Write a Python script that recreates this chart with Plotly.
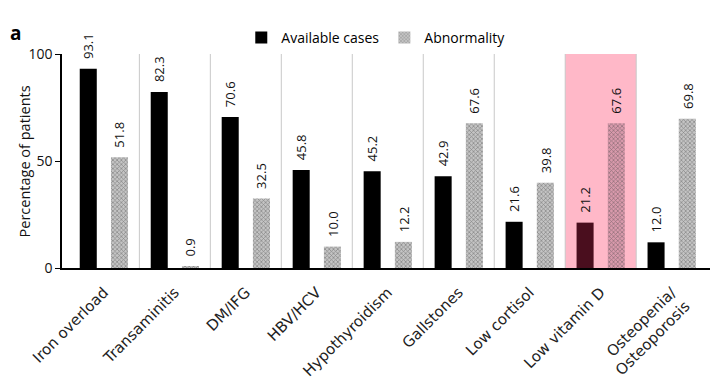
import plotly.graph_objects as go

categories = ["Iron overload", "Transaminitis", "DM/IFG", "HBV/HCV", "Hypothyroidism",
              "Gallstones", "Low cortisol", "Low vitamin D", "Osteopenia/<br>Osteoporosis"]
available = [93.1, 82.3, 70.6, 45.8, 45.2, 42.9, 21.6, 21.2, 12.0]
abnormality = [51.8, 0.9, 32.5, 10.0, 12.2, 67.6, 39.8, 67.6, 69.8]
highlight_index = 7
y_ticks = [0, 50, 100]

x = list(range(len(categories)))
black_colors = ["#4a0e1e" if i == highlight_index else "#000000" for i in x]
pat_fg = ["#8c5a68" if i == highlight_index else "#6e6e6e" for i in x]
pat_bg = ["#d99aac" if i == highlight_index else "#c4c4c4" for i in x]

BAR_W = 0.24
OFF_A = -0.34
OFF_B = 0.10

fig = go.Figure()
fig.add_trace(go.Bar(
    x=x, y=available, name="Available cases",
    marker=dict(color=black_colors, line=dict(width=0)),
    width=BAR_W, offset=OFF_A,
))
fig.add_trace(go.Bar(
    x=x, y=abnormality, name="Abnormality",
    marker=dict(color=pat_bg, line=dict(width=0),
                pattern=dict(shape="x", size=3, fgcolor=pat_fg, bgcolor=pat_bg, solidity=0.4)),
    width=BAR_W, offset=OFF_B,
))

annotations = []
for series, off in ((available, OFF_A), (abnormality, OFF_B)):
    for i, v in enumerate(series):
        annotations.append(dict(x=i + off + BAR_W / 2, y=v, xref="x", yref="y",
                                text=f"{v:.1f}", textangle=-90, showarrow=False,
                                xanchor="center", yanchor="bottom", yshift=8,
                                font=dict(family="Open Sans", size=13, color="#111")))
annotations.append(dict(text="<b>a</b>", x=-0.072, y=1.1, xref="paper", yref="paper",
                        xanchor="center", yanchor="middle", showarrow=False,
                        font=dict(size=19, family="Open Sans", color="#000")))
annotations.append(dict(text="Percentage of patients", x=-0.058, y=0.5, xref="paper", yref="paper",
                        xanchor="center", yanchor="middle", textangle=-90, showarrow=False,
                        font=dict(size=14.5, family="Open Sans", color="#111")))

shapes = [dict(type="rect", xref="x", yref="y", x0=highlight_index - 0.5, x1=highlight_index + 0.5,
               y0=0, y1=100, fillcolor="#ffb8c8", line=dict(width=0), layer="below")]
for i in range(len(categories) - 1):
    shapes.append(dict(type="line", xref="x", yref="y", x0=i + 0.5, x1=i + 0.5, y0=0, y1=100,
                       line=dict(color="#c8c8c8", width=1), layer="below"))

fig.update_layout(
    width=727, height=388,
    margin=dict(l=54, r=25, t=46, b=128, autoexpand=False),
    paper_bgcolor="white", plot_bgcolor="white",
    font=dict(family="Open Sans", size=13, color="#111"),
    shapes=shapes,
    annotations=annotations,
    showlegend=True,
    legend=dict(orientation="h", x=0.485, xanchor="center", y=1.0, yanchor="bottom",
                font=dict(family="Open Sans", size=14, color="#000"),
                itemwidth=30, bgcolor="rgba(0,0,0,0)"),
    xaxis=dict(range=[-0.59, 8.54], tickmode="array", tickvals=x, ticktext=categories,
               tickangle=-45, showline=True, linecolor="#000", linewidth=1.5,
               ticks="", showgrid=False, zeroline=False, automargin=False,
               ticklabelstandoff=8,
               tickfont=dict(family="DejaVu Sans", size=15, color="#222")),
    yaxis=dict(range=[0, 100], tickvals=y_ticks, showline=True, linecolor="#000", linewidth=1.5,
               ticks="outside", ticklen=5, tickcolor="#000", showgrid=False, zeroline=False,
               automargin=False,
               tickfont=dict(size=14)),
)

fig.write_html("out.html")
